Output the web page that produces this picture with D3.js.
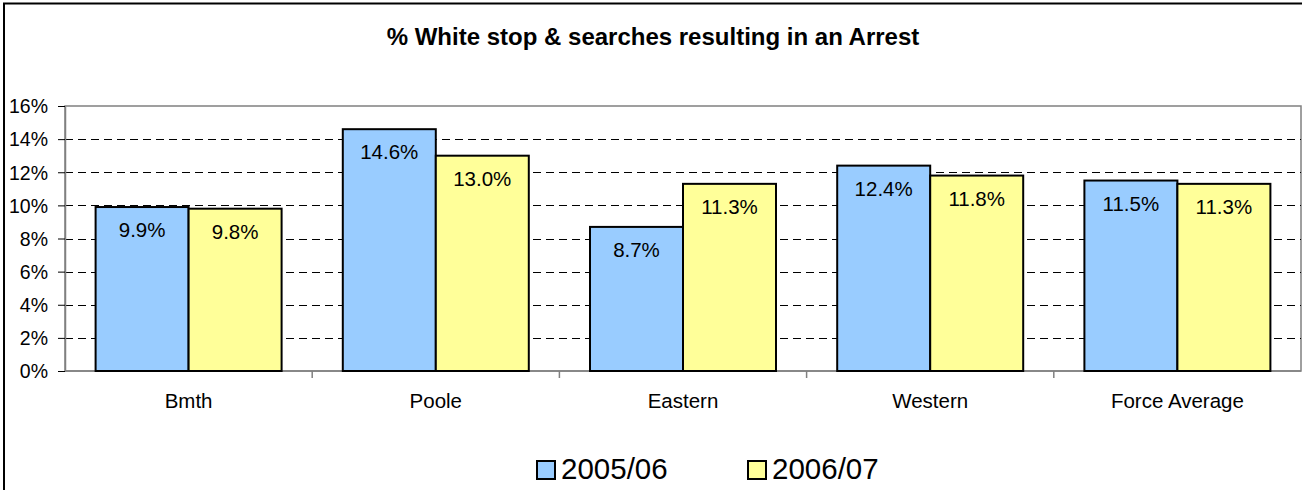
<!DOCTYPE html>
<html><head><meta charset="utf-8">
<script src="https://cdn.jsdelivr.net/npm/d3@7"></script>
<style>body{margin:0;background:#fff}svg{display:block;font-family:Arial,"Liberation Sans",sans-serif}</style>
</head><body><svg id="c" width="1302" height="490"></svg>
<script>
const categories = ["Bmth","Poole","Eastern","Western","Force Average"];
const seriesNames = ["2005/06","2006/07"];
const values2005 = [9.9,14.6,8.7,12.4,11.5];
const values2006 = [9.8,13.0,11.3,11.8,11.3];
const yTicks = [0,2,4,6,8,10,12,14,16];
const colors = ["#99CCFF","#FFFF99"];

const svg = d3.select("#c");
const L=65, R=1301, T=106, B=371;
svg.append("rect").attr("x",4).attr("y",3.5).attr("width",1310).attr("height",500)
  .attr("fill","#fff").attr("stroke","#000").attr("stroke-width",2);

svg.append("text").attr("x",653).attr("y",45).attr("text-anchor","middle")
  .attr("font-weight","bold").attr("font-size",24).text("% White stop & searches resulting in an Arrest");

const x0 = d3.scaleBand().domain(categories).range([L,R]).paddingInner(0).paddingOuter(0);
const inner = 186/247.2;
const x1 = d3.scaleBand().domain(seriesNames).range([0,x0.bandwidth()*inner]);
const y = d3.scaleLinear().domain([0,16]).range([B,T]);

// plot border
svg.append("rect").attr("x",L).attr("y",T).attr("width",R-L).attr("height",B-T)
  .attr("fill","none").attr("stroke","#808080").attr("stroke-width",1.5);

// gridlines
svg.append("g").selectAll("line").data(yTicks.filter(d=>d>0&&d<16)).join("line")
  .attr("x1",L).attr("x2",R).attr("y1",d=>Math.round(y(d))+0.5).attr("y2",d=>Math.round(y(d))+0.5)
  .attr("stroke","#000").attr("stroke-dasharray","8,5");

// y axis
const ya = d3.axisLeft(y).tickValues(yTicks).tickFormat(d=>d+"%").tickSize(7).tickSizeOuter(0);
const yg = svg.append("g").attr("transform",`translate(${L},0)`).call(ya);
yg.select(".domain").attr("stroke","#808080").attr("stroke-width",1.5);
yg.selectAll(".tick line").attr("stroke","#000");
yg.selectAll(".tick text").attr("font-size",19.5).attr("fill","#000").attr("x",-17).attr("dy","0.35em");

// x axis
const xa = svg.append("g").attr("transform",`translate(0,${B})`);
xa.append("line").attr("x1",L).attr("x2",R).attr("stroke","#808080").attr("stroke-width",1.5);
xa.selectAll("line.t").data(categories.slice(1)).join("line").attr("class","t")
  .attr("x1",d=>x0(d)).attr("x2",d=>x0(d)).attr("y1",0).attr("y2",7).attr("stroke","#808080").attr("stroke-width",1.5);
xa.selectAll("text").data(categories).join("text")
  .attr("x",d=>x0(d)+x0.bandwidth()/2).attr("y",37).attr("text-anchor","middle")
  .attr("font-size",20.5).text(d=>d);

// bars
const data = categories.map((c,i)=>({c, v:[values2005[i],values2006[i]]}));
const offset = x0.bandwidth()*(1-inner)/2;
const g = svg.append("g").selectAll("g").data(data).join("g")
  .attr("transform",d=>`translate(${x0(d.c)+offset},0)`);
g.selectAll("rect").data(d=>d.v.map((v,i)=>({v,s:seriesNames[i],i}))).join("rect")
  .attr("x",d=>x1(d.s)).attr("width",x1.bandwidth())
  .attr("y",d=>y(d.v)).attr("height",d=>B-y(d.v))
  .attr("fill",d=>colors[d.i]).attr("stroke","#000").attr("stroke-width",2);
g.selectAll("text").data(d=>d.v.map((v,i)=>({v,s:seriesNames[i],i}))).join("text")
  .attr("x",d=>x1(d.s)+x1.bandwidth()/2).attr("y",d=>y(d.v)+30).attr("text-anchor","middle")
  .attr("font-size",20.5).text(d=>d.v.toFixed(1)+"%");

// legend
const lg = svg.append("g");
const lx = [537,748];
seriesNames.forEach((s,i)=>{
  lg.append("rect").attr("x",lx[i]).attr("y",461).attr("width",18).attr("height",18)
    .attr("fill",colors[i]).attr("stroke","#000").attr("stroke-width",2);
  lg.append("text").attr("x",lx[i]+24).attr("y",479).attr("font-size",29.5).text(s);
});
</script></body></html>
